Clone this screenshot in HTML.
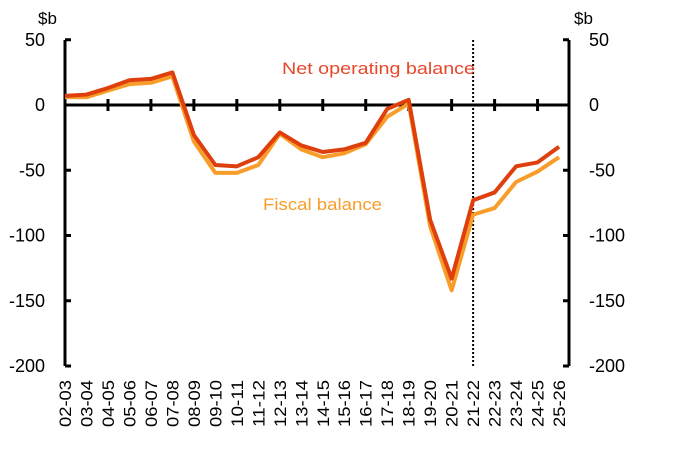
<!DOCTYPE html>
<html><head><meta charset="utf-8"><style>body{margin:0;background:#fff}svg{display:block}text{font-family:"Liberation Sans",sans-serif}</style></head><body>
<svg width="684" height="453" viewBox="0 0 684 453">
<g id="g"></g>
</svg>
<script>
const g=document.getElementById('g');
const ns='http://www.w3.org/2000/svg';
function el(t,a,txt){const e=document.createElementNS(ns,t);for(const k in a)e.setAttribute(k,a[k]);if(txt!==undefined)e.textContent=txt;g.appendChild(e);return e;}
const X=i=>65+i*21.48, Y=v=>105-v*1.305;
el('line',{x1:65,y1:40,x2:65,y2:366,stroke:'#000','stroke-width':3});
el('line',{x1:569,y1:40,x2:569,y2:366,stroke:'#000','stroke-width':3});
el('line',{x1:65,y1:105,x2:569,y2:105,stroke:'#000','stroke-width':3});
[50,0,-50,-100,-150,-200].forEach(v=>{
 el('line',{x1:65,y1:Y(v),x2:71,y2:Y(v),stroke:'#000','stroke-width':3});
 el('line',{x1:563,y1:Y(v),x2:569,y2:Y(v),stroke:'#000','stroke-width':3});
 el('text',{x:45,y:Y(v)+6,'text-anchor':'end','font-size':18},v);
 el('text',{x:589,y:Y(v)+6,'font-size':18},v);
});
el('text',{x:38,y:24,'font-size':17},'$b');
el('text',{x:574,y:24,'font-size':17},'$b');
for(let i=2;i<=22;i+=2)el('line',{x1:X(i),y1:99,x2:X(i),y2:111,stroke:'#000','stroke-width':3});
el('line',{x1:X(19),y1:40,x2:X(19),y2:366,stroke:'#000','stroke-width':2,'stroke-dasharray':'2,2'});
for(let i=0;i<24;i++){const a=2+i,b=3+i;const s=String(a).padStart(2,'0')+'-'+String(b).padStart(2,'0');
 el('text',{x:0,y:0,'font-size':17,'text-anchor':'end',textLength:47,lengthAdjust:'spacingAndGlyphs',transform:`translate(${X(i)+6},380) rotate(-90)`},s);}
const fis=[6,6,11,16,17,22,-28,-52,-52,-46,-22,-34,-40,-37,-30,-9,1,-93,-142,-84,-79,-59,-51,-40];
const net=[7,8,13,19,20,25,-23,-46,-47,-40,-21,-31,-36,-34,-29,-3,4,-88,-133,-73,-67,-47,-44,-32];
el('polyline',{points:fis.map((v,i)=>X(i)+','+Y(v)).join(' '),fill:'none',stroke:'#f99d2a','stroke-width':4,'stroke-linejoin':'round'});
el('polyline',{points:net.map((v,i)=>X(i)+','+Y(v)).join(' '),fill:'none',stroke:'#de3f0c','stroke-width':4,'stroke-linejoin':'round'});
el('text',{x:282,y:74,'font-size':17,fill:'#e8482a',textLength:193,lengthAdjust:'spacingAndGlyphs'},'Net operating balance');
el('text',{x:263,y:210,'font-size':17,fill:'#f99d2a',textLength:119,lengthAdjust:'spacingAndGlyphs'},'Fiscal balance');
</script>
</body></html>
